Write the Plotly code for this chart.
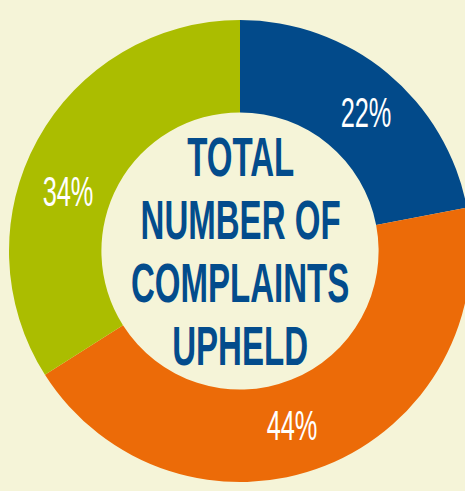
import plotly.graph_objects as go

categories = ["Blue segment", "Orange segment", "Green segment"]
shares = [22, 44, 34]
colors = ["#024A8A", "#EC6B08", "#ABBD00"]
center_lines = ["TOTAL", "NUMBER OF", "COMPLAINTS", "UPHELD"]

W, H = 471, 491
ml, mr, mt, mb = 9, 0, 20, 9
plot_w = W - ml - mr
plot_h = H - mt - mb


def px_to_paper(px, py):
    return (px - ml) / plot_w, (H - mb - py) / plot_h


fig = go.Figure(go.Pie(
    labels=categories,
    values=shares,
    hole=0.6,
    sort=False,
    direction="clockwise",
    rotation=0,
    marker=dict(colors=colors, line=dict(width=0)),
    textinfo="none",
    showlegend=False,
    hoverinfo="label+percent",
))

# percentage labels (text taken from the data)
label_px = [(366, 112), (292, 425), (68, 191)]
for val, (px, py) in zip(shares, label_px):
    x, y = px_to_paper(px, py)
    fig.add_annotation(
        text=f"{val}%", xref="paper", yref="paper", x=x, y=y,
        xanchor="center", yanchor="middle", showarrow=False,
        font=dict(family="Liberation Sans, Arial, sans-serif", size=43, color="white"),
    )

# centre title, one line per annotation
line_px = [156, 219, 282, 345]
for txt, py in zip(center_lines, line_px):
    x, y = px_to_paper(240, py)
    fig.add_annotation(
        text=txt, xref="paper", yref="paper", x=x, y=y,
        xanchor="center", yanchor="middle", showarrow=False,
        font=dict(family="Liberation Sans, Arial, sans-serif",
                  size=56, color="#034C8C", weight="bold"),
    )

fig.update_layout(
    width=W, height=H,
    margin=dict(l=ml, r=mr, t=mt, b=mb),
    paper_bgcolor="#F5F4D8",
    plot_bgcolor="#F5F4D8",
)

post = r"""
(function(){
  document.documentElement.style.overflow='hidden';
  document.body.style.margin='0';
  document.body.style.overflow='hidden';
  var gd=document.getElementById('{plot_id}');
  function sq(){
    if(!gd) return;
    var els=gd.querySelectorAll('g.annotation text');
    els.forEach(function(t){
      var cur=t.getAttribute('transform')||'';
      if(t.dataset.sqt===cur) return;
      var s=0.59;
      var b=t.getBBox();
      var cx=b.x+b.width/2, cy=b.y+b.height/2;
      var nt=cur+' translate('+cx+','+cy+') scale('+s+',1) translate('+(-cx)+','+(-cy)+')';
      t.setAttribute('transform',nt);
      t.dataset.sqt=nt;
    });
  }
  if(gd && gd.on){ gd.on('plotly_afterplot', sq); }
  sq();
  setTimeout(sq,50);
  setTimeout(sq,400);
})();
"""

fig.write_html("out.html", post_script=post, config={"displayModeBar": False})
